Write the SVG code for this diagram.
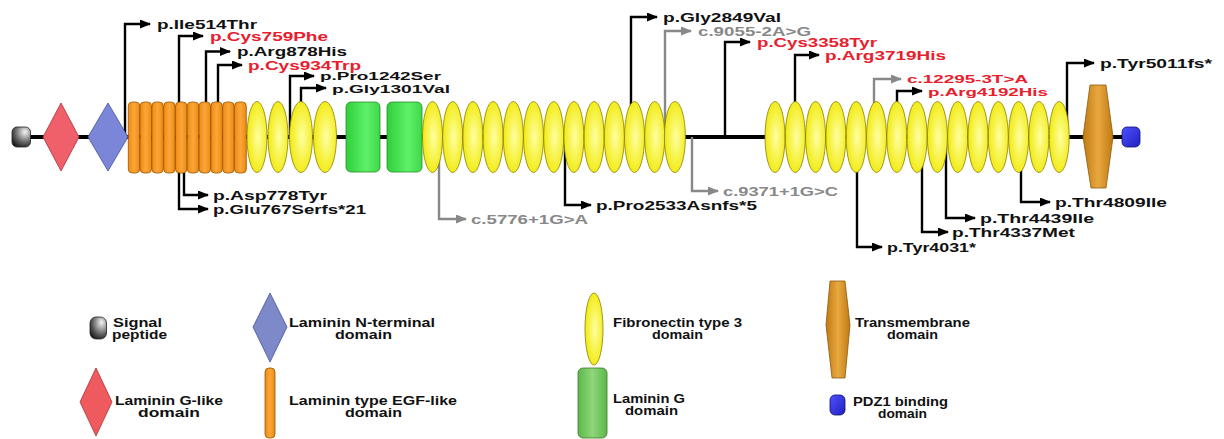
<svg xmlns="http://www.w3.org/2000/svg" width="1224" height="439" viewBox="0 0 1224 439">
<defs>
<radialGradient id="gY" cx="0.55" cy="0.5" r="0.6"><stop offset="0" stop-color="#ffffa0"/><stop offset="1" stop-color="#f0e800"/></radialGradient>
<linearGradient id="gG" x1="0" y1="0" x2="1" y2="0"><stop offset="0" stop-color="#2fcf3a"/><stop offset="0.6" stop-color="#5ff06a"/><stop offset="1" stop-color="#3fd84a"/></linearGradient>
<linearGradient id="gGL" x1="0" y1="0" x2="1" y2="0"><stop offset="0" stop-color="#5cb84a"/><stop offset="0.5" stop-color="#8fd67a"/><stop offset="1" stop-color="#5cb84a"/></linearGradient>
<linearGradient id="gO" x1="0" y1="0" x2="1" y2="0"><stop offset="0" stop-color="#f08a10"/><stop offset="0.5" stop-color="#fba63a"/><stop offset="1" stop-color="#ee8a10"/></linearGradient>
<linearGradient id="gT" x1="0" y1="0" x2="1" y2="0"><stop offset="0" stop-color="#c07a10"/><stop offset="0.5" stop-color="#e8a840"/><stop offset="1" stop-color="#c07a12"/></linearGradient>
<radialGradient id="gS" cx="0.7" cy="0.25" r="0.9"><stop offset="0" stop-color="#f4f4f4"/><stop offset="0.6" stop-color="#606060"/><stop offset="1" stop-color="#101010"/></radialGradient>
<linearGradient id="gP" x1="0" y1="0" x2="1" y2="1"><stop offset="0" stop-color="#5050ff"/><stop offset="1" stop-color="#2020c0"/></linearGradient>
<marker id="aK" markerUnits="userSpaceOnUse" markerWidth="11" markerHeight="9" refX="10" refY="4.5" orient="auto"><path d="M0,0 L11,4.5 L0,9 z" fill="#000"/></marker>
<marker id="aG" markerUnits="userSpaceOnUse" markerWidth="11" markerHeight="9" refX="10" refY="4.5" orient="auto"><path d="M0,0 L11,4.5 L0,9 z" fill="#888"/></marker>
</defs>
<style>
.k{fill:none;stroke:#000;stroke-width:2.4;marker-end:url(#aK)}
.g{fill:none;stroke:#888;stroke-width:2.4;marker-end:url(#aG)}
.bb{fill:none;stroke:#000;stroke-width:4}
.y{fill:url(#gY);stroke:#8a8000;stroke-width:0.8}
.eg{fill:url(#gO);stroke:#9a5500;stroke-width:0.8}
.lg{fill:url(#gG);stroke:#2a8a2a;stroke-width:0.8}
text{font-family:"Liberation Sans",Arial,sans-serif;font-weight:bold;font-size:12.5px;fill:#111}
.r{fill:#e8202e}
.gt{fill:#888}
.sm{font-size:11.5px}
.lt{font-size:12.5px}
</style>
<rect width="1224" height="439" fill="#fff"/>
<g id="connectors">
<path class="bb" d="M30,137 H1122"/>
<path class="k" d="M125,137 V24 H150"/>
<path class="k" d="M179,137 V36 H203"/>
<path class="k" d="M206,137 V51.5 H230"/>
<path class="k" d="M218,137 V65 H242"/>
<path class="k" d="M290,137 V76 H314"/>
<path class="k" d="M301,137 V88 H326"/>
<path class="k" d="M631,137 V17 H657"/>
<path class="g" d="M665,137 V31 H691"/>
<path class="k" d="M725,137 V42 H750"/>
<path class="k" d="M795,137 V55 H819"/>
<path class="g" d="M874,137 V79 H901"/>
<path class="k" d="M897,137 V91 H922"/>
<path class="k" d="M1067,137 V63 H1094"/>
<path class="k" d="M184,137 V195 H208"/>
<path class="k" d="M179,137 V209 H208"/>
<path class="g" d="M439,137 V219 H466"/>
<path class="k" d="M565,137 V205 H591"/>
<path class="g" d="M692,137 V191 H718"/>
<path class="k" d="M857,137 V247 H882"/>
<path class="k" d="M922,137 V232 H948"/>
<path class="k" d="M946,137 V218 H975"/>
<path class="k" d="M1021,137 V202 H1050"/>
</g>
<g id="signal-peptide"><rect x="12" y="127" width="18.5" height="20" rx="5" fill="url(#gS)" stroke="#222" stroke-width="0.8"/></g>
<g id="laminin-g-like"><polygon points="61,103 79,137 61,171 43,137" fill="#f0606a" stroke="#a83038" stroke-width="0.8"/></g>
<g id="laminin-n-terminal"><polygon points="108,103 128,137 108,171 88,137" fill="#7b86d8" stroke="#44509a" stroke-width="0.8"/></g>
<g id="egf-domains">
<rect class="eg" x="128.3" y="102" width="11.4" height="71" rx="4"/>
<rect class="eg" x="140.1" y="102" width="11.4" height="71" rx="4"/>
<rect class="eg" x="151.9" y="102" width="11.4" height="71" rx="4"/>
<rect class="eg" x="163.7" y="102" width="11.4" height="71" rx="4"/>
<rect class="eg" x="175.5" y="102" width="11.4" height="71" rx="4"/>
<rect class="eg" x="187.3" y="102" width="11.4" height="71" rx="4"/>
<rect class="eg" x="199.1" y="102" width="11.4" height="71" rx="4"/>
<rect class="eg" x="210.9" y="102" width="11.4" height="71" rx="4"/>
<rect class="eg" x="222.7" y="102" width="11.4" height="71" rx="4"/>
<rect class="eg" x="234.5" y="102" width="11.8" height="71" rx="4"/>
</g>
<g id="fn3-group1">
<ellipse class="y" cx="257" cy="137" rx="10" ry="35.5"/>
<ellipse class="y" cx="278" cy="137" rx="10" ry="35.5"/>
<ellipse class="y" cx="301" cy="137" rx="11.5" ry="35.5"/>
<ellipse class="y" cx="325" cy="137" rx="11.5" ry="35.5"/>
</g>
<g id="laminin-g">
<rect class="lg" x="346" y="102" width="34" height="70" rx="5"/>
<rect class="lg" x="387" y="102" width="35" height="70" rx="5"/>
</g>
<g id="fn3-group2">
<ellipse class="y" cx="432.5" cy="137" rx="10" ry="35.5"/>
<ellipse class="y" cx="452.7" cy="137" rx="10" ry="35.5"/>
<ellipse class="y" cx="472.9" cy="137" rx="10" ry="35.5"/>
<ellipse class="y" cx="493.1" cy="137" rx="10" ry="35.5"/>
<ellipse class="y" cx="513.3" cy="137" rx="10" ry="35.5"/>
<ellipse class="y" cx="533.5" cy="137" rx="10" ry="35.5"/>
<ellipse class="y" cx="553.7" cy="137" rx="10" ry="35.5"/>
<ellipse class="y" cx="573.9" cy="137" rx="10" ry="35.5"/>
<ellipse class="y" cx="594.1" cy="137" rx="10" ry="35.5"/>
<ellipse class="y" cx="614.3" cy="137" rx="10" ry="35.5"/>
<ellipse class="y" cx="634.5" cy="137" rx="10" ry="35.5"/>
<ellipse class="y" cx="654.7" cy="137" rx="10" ry="35.5"/>
<ellipse class="y" cx="674.9" cy="137" rx="10.5" ry="35.5"/>
</g>
<g id="fn3-group3">
<ellipse class="y" cx="775" cy="137" rx="10" ry="35.5"/>
<ellipse class="y" cx="795.3" cy="137" rx="10" ry="35.5"/>
<ellipse class="y" cx="815.6" cy="137" rx="10" ry="35.5"/>
<ellipse class="y" cx="835.9" cy="137" rx="10" ry="35.5"/>
<ellipse class="y" cx="856.2" cy="137" rx="10" ry="35.5"/>
<ellipse class="y" cx="876.5" cy="137" rx="10" ry="35.5"/>
<ellipse class="y" cx="896.8" cy="137" rx="10" ry="35.5"/>
<ellipse class="y" cx="917.1" cy="137" rx="10" ry="35.5"/>
<ellipse class="y" cx="937.4" cy="137" rx="10" ry="35.5"/>
<ellipse class="y" cx="957.7" cy="137" rx="10" ry="35.5"/>
<ellipse class="y" cx="978" cy="137" rx="10" ry="35.5"/>
<ellipse class="y" cx="998.3" cy="137" rx="10" ry="35.5"/>
<ellipse class="y" cx="1018.6" cy="137" rx="10" ry="35.5"/>
<ellipse class="y" cx="1038.9" cy="137" rx="10" ry="35.5"/>
<ellipse class="y" cx="1059.2" cy="137" rx="10" ry="35.5"/>
</g>
<g id="transmembrane"><polygon points="1090,85 1106,85 1113,137 1106,188 1091,188 1083,137" fill="url(#gT)" stroke="#8a5a10" stroke-width="0.8"/></g>
<g id="pdz1"><rect x="1122" y="127" width="18" height="20" rx="5" fill="url(#gP)" stroke="#101070" stroke-width="0.8"/></g>
<g id="labels">
<text x="157" y="28.5" textLength="100" lengthAdjust="spacingAndGlyphs">p.Ile514Thr</text>
<text class="r" x="210" y="40.5" textLength="118" lengthAdjust="spacingAndGlyphs">p.Cys759Phe</text>
<text x="237" y="56" textLength="110" lengthAdjust="spacingAndGlyphs">p.Arg878His</text>
<text class="r" x="248" y="69.5" textLength="113" lengthAdjust="spacingAndGlyphs">p.Cys934Trp</text>
<text class="sm" x="320" y="80" textLength="121" lengthAdjust="spacingAndGlyphs">p.Pro1242Ser</text>
<text class="sm" x="332" y="93" textLength="118" lengthAdjust="spacingAndGlyphs">p.Gly1301Val</text>
<text x="663" y="21.5" textLength="118" lengthAdjust="spacingAndGlyphs">p.Gly2849Val</text>
<text class="gt" x="698" y="35.5" textLength="113" lengthAdjust="spacingAndGlyphs">c.9055-2A&gt;G</text>
<text class="r" x="757" y="46.5" textLength="120" lengthAdjust="spacingAndGlyphs">p.Cys3358Tyr</text>
<text class="r" x="825" y="59.5" textLength="121" lengthAdjust="spacingAndGlyphs">p.Arg3719His</text>
<text class="r sm" x="907" y="83" textLength="121" lengthAdjust="spacingAndGlyphs">c.12295-3T&gt;A</text>
<text class="r sm" x="928" y="96" textLength="120" lengthAdjust="spacingAndGlyphs">p.Arg4192His</text>
<text x="1100" y="67.5" textLength="112" lengthAdjust="spacingAndGlyphs">p.Tyr5011fs*</text>
<text x="213" y="199.5" textLength="114" lengthAdjust="spacingAndGlyphs">p.Asp778Tyr</text>
<text x="213" y="213.5" textLength="153" lengthAdjust="spacingAndGlyphs">p.Glu767Serfs*21</text>
<text class="gt" x="471" y="223.5" textLength="117" lengthAdjust="spacingAndGlyphs">c.5776+1G&gt;A</text>
<text x="596" y="209.5" textLength="161" lengthAdjust="spacingAndGlyphs">p.Pro2533Asnfs*5</text>
<text class="gt" x="723" y="195.5" textLength="115" lengthAdjust="spacingAndGlyphs">c.9371+1G&gt;C</text>
<text x="887" y="251.5" textLength="89" lengthAdjust="spacingAndGlyphs">p.Tyr4031*</text>
<text x="952" y="236.5" textLength="123" lengthAdjust="spacingAndGlyphs">p.Thr4337Met</text>
<text x="980" y="222.5" textLength="114" lengthAdjust="spacingAndGlyphs">p.Thr4439Ile</text>
<text x="1055" y="206.5" textLength="112" lengthAdjust="spacingAndGlyphs">p.Thr4809Ile</text>
</g>
<g id="legend-signal">
<rect x="90" y="317" width="16.5" height="22" rx="6" fill="url(#gS)" stroke="#222" stroke-width="0.8"/>
<text class="lt" x="113" y="327" textLength="49" lengthAdjust="spacingAndGlyphs">Signal</text>
<text class="lt" x="112" y="339" textLength="55" lengthAdjust="spacingAndGlyphs">peptide</text>
</g>
<g id="legend-laminin-n">
<polygon points="270,293 287,327 270,362 253,327" fill="#7d89c9" stroke="#44509a" stroke-width="0.8"/>
<text class="lt" x="289" y="327" textLength="146" lengthAdjust="spacingAndGlyphs">Laminin N-terminal</text>
<text class="lt" x="335" y="339" textLength="57" lengthAdjust="spacingAndGlyphs">domain</text>
</g>
<g id="legend-fn3">
<ellipse cx="594" cy="329" rx="9" ry="36" class="y"/>
<text class="lt" x="613" y="327" textLength="129" lengthAdjust="spacingAndGlyphs">Fibronectin type 3</text>
<text class="lt" x="652" y="339" textLength="51" lengthAdjust="spacingAndGlyphs">domain</text>
</g>
<g id="legend-transmembrane">
<polygon points="830,281 845,281 850,325 845,378 832,378 826,325" fill="url(#gT)" stroke="#8a5a10" stroke-width="0.8"/>
<text class="lt" x="855" y="327" textLength="115" lengthAdjust="spacingAndGlyphs">Transmembrane</text>
<text class="lt" x="887" y="339" textLength="51" lengthAdjust="spacingAndGlyphs">domain</text>
</g>
<g id="legend-laminin-g-like">
<polygon points="96,368 112,402 96,436 80,402" fill="#ef5a5e" stroke="#a83038" stroke-width="0.8"/>
<text class="lt" x="115" y="405" textLength="108" lengthAdjust="spacingAndGlyphs">Laminin G-like</text>
<text class="lt" x="138" y="417" textLength="62" lengthAdjust="spacingAndGlyphs">domain</text>
</g>
<g id="legend-egf">
<rect x="265" y="368" width="10" height="70" rx="4" class="eg"/>
<text class="lt" x="289" y="405" textLength="168" lengthAdjust="spacingAndGlyphs">Laminin type EGF-like</text>
<text class="lt" x="345" y="417" textLength="57" lengthAdjust="spacingAndGlyphs">domain</text>
</g>
<g id="legend-laminin-g">
<rect x="578" y="368" width="29" height="70" rx="5" fill="url(#gGL)" stroke="#3a7a2a" stroke-width="0.8"/>
<text class="lt" x="613" y="403" textLength="72" lengthAdjust="spacingAndGlyphs">Laminin G</text>
<text class="lt" x="625" y="415" textLength="53" lengthAdjust="spacingAndGlyphs">domain</text>
</g>
<g id="legend-pdz1">
<rect x="830" y="395" width="15" height="20" rx="5" fill="url(#gP)" stroke="#101070" stroke-width="0.8"/>
<text class="lt" x="853" y="406" textLength="95" lengthAdjust="spacingAndGlyphs">PDZ1 binding</text>
<text class="lt" x="878" y="418" textLength="49" lengthAdjust="spacingAndGlyphs">domain</text>
</g>
</svg>
